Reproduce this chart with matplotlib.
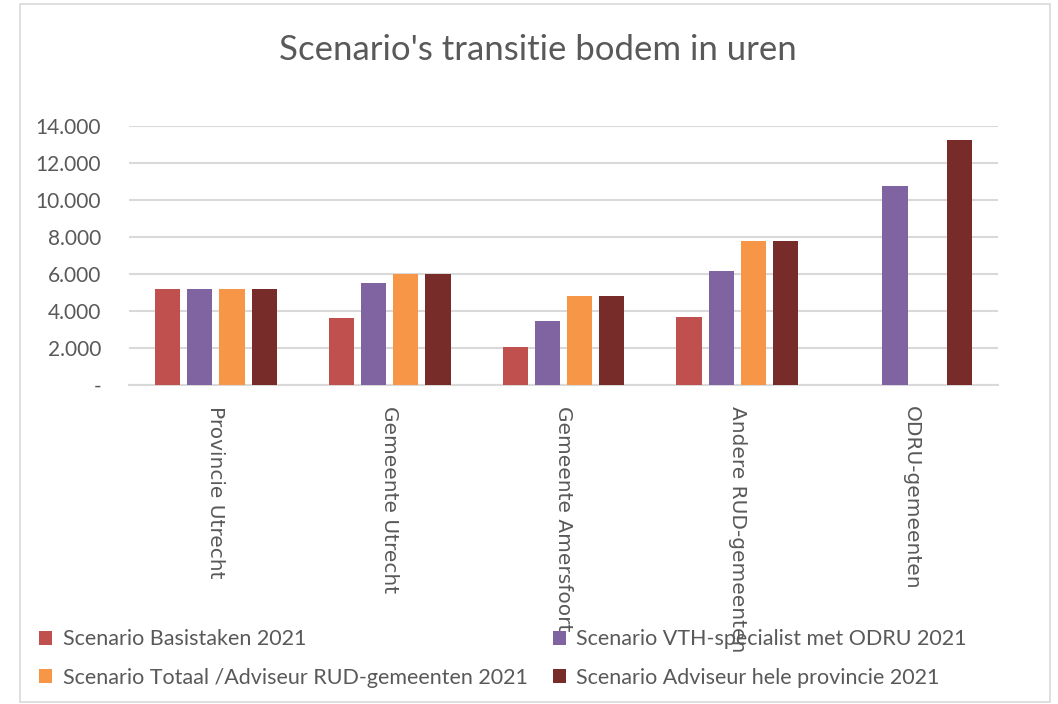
import matplotlib
matplotlib.use("Agg")
import matplotlib.pyplot as plt
import numpy as np
from matplotlib.patches import Patch, Rectangle

categories = ["Provincie Utrecht", "Gemeente Utrecht", "Gemeente Amersfoort",
              "Andere RUD-gemeenten", "ODRU-gemeenten"]
series_names = ["Scenario Basistaken 2021",
                "Scenario VTH-specialist met ODRU 2021",
                "Scenario Totaal /Adviseur RUD-gemeenten 2021",
                "Scenario Adviseur hele provincie 2021"]
basistaken = [5200, 3600, 2050, 3650, 0]
vth_specialist = [5200, 5500, 3450, 6150, 10750]
totaal_adviseur = [5200, 6000, 4800, 7800, 0]
adviseur_provincie = [5200, 6000, 4800, 7800, 13250]
y_ticks = [0, 2000, 4000, 6000, 8000, 10000, 12000, 14000]
y_tick_labels = ["-", "2.000", "4.000", "6.000", "8.000", "10.000", "12.000", "14.000"]

colors = ["#C0504D", "#8064A2", "#F79646", "#772C2A"]
text_color = "#595959"
font = ["Lato", "DejaVu Sans"]

fig = plt.figure(figsize=(10.58, 7.04), dpi=100)
ax = fig.add_axes([129 / 1058, 1 - 385 / 704, (998 - 129) / 1058, (385 - 126) / 704])

# chart border
fig.patches.append(Rectangle((20 / 1058, 2 / 704), 1030 / 1058, 698 / 704,
                             transform=fig.transFigure, fill=False,
                             edgecolor="#D9D9D9", linewidth=1.2))

x = np.arange(len(categories))
width = 0.145
step = 0.185
all_series = [basistaken, vth_specialist, totaal_adviseur, adviseur_provincie]
for i, vals in enumerate(all_series):
    ax.bar(x + (i - 1.5) * step, vals, width, color=colors[i], zorder=3)

ax.set_xlim(-0.5, len(categories) - 0.5)
ax.set_ylim(0, 14000)
ax.set_yticks(y_ticks)
ax.set_yticklabels(y_tick_labels, fontfamily=font, fontsize=15, color=text_color)
ax.set_xticks(x)
ax.set_xticklabels(categories, rotation=270, fontsize=14.5, color=text_color,
                   fontfamily="DejaVu Sans", va="top", ha="center")
ax.tick_params(axis="both", length=0)
ax.tick_params(axis="x", pad=15)
ax.tick_params(axis="y", pad=20)
ax.grid(axis="y", color="#D9D9D9", linewidth=1.5, zorder=0)
for s in ["top", "right", "left"]:
    ax.spines[s].set_visible(False)
ax.spines["bottom"].set_color("#D9D9D9")
ax.spines["bottom"].set_linewidth(1.5)

fig.text(538 / 1058, 1 - 50 / 704, "Scenario's transitie bodem in uren",
         ha="center", va="center", fontsize=25, color=text_color,
         fontfamily=font)

# legend is filled column by column, so reorder to get row-wise reading
order = [0, 2, 1, 3]
handles = [Patch(facecolor=colors[i]) for i in order]
labels = [series_names[i] for i in order]
fig.legend(handles, labels, loc="upper left", ncol=2,
           bbox_to_anchor=(20 / 1058, 1 - 610 / 704), frameon=False,
           prop={"family": font, "size": 15.5}, labelcolor=text_color,
           handlelength=0.6, handleheight=0.6, handletextpad=0.5,
           columnspacing=1.15, labelspacing=0.85)

fig.savefig("out.png", dpi=100)
